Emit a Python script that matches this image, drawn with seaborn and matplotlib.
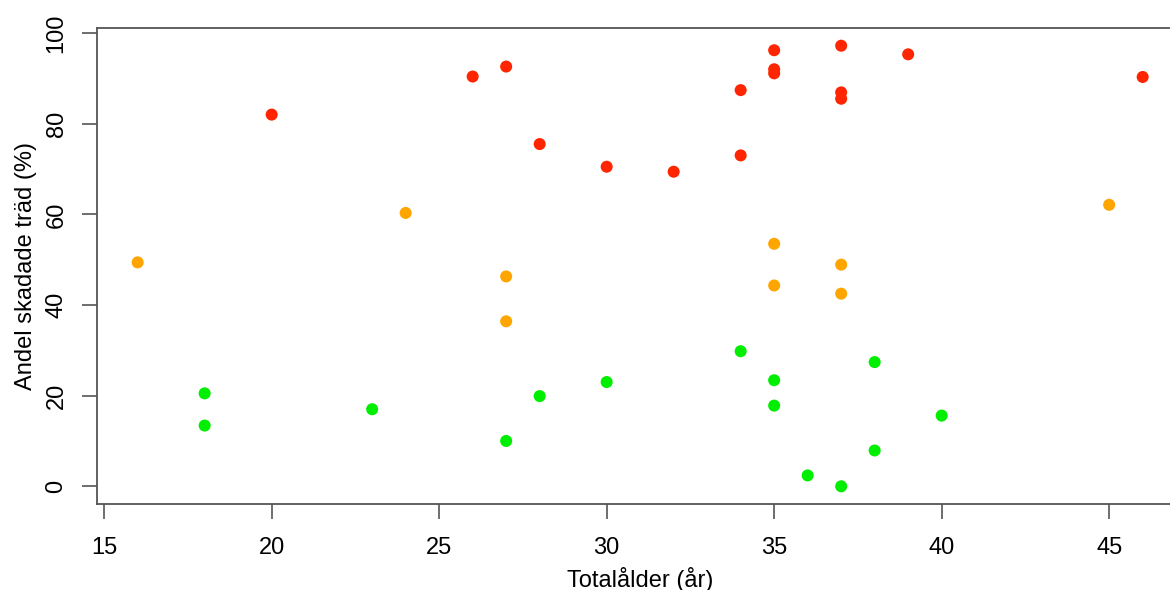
import numpy as np
import pandas as pd
import matplotlib
matplotlib.use("Agg")
import matplotlib.pyplot as plt
import seaborn as sns

# totalålder (år) och andel skadade träd (%) per klass
red_age = [20, 26, 27, 28, 30, 32, 34, 34, 35, 35, 35, 37, 37, 37, 39, 46]
red_share = [82.0, 90.4, 92.6, 75.5, 70.5, 69.4, 87.4, 73.0, 96.2, 92.0, 91.1, 97.2, 86.9, 85.5, 95.3, 90.3]

orange_age = [16, 24, 27, 27, 35, 35, 37, 37, 45]
orange_share = [49.4, 60.3, 46.3, 36.4, 53.5, 44.3, 48.9, 42.5, 62.1]

green_age = [18, 18, 23, 27, 28, 30, 34, 35, 35, 36, 37, 38, 38, 40]
green_share = [20.5, 13.4, 17.0, 10.0, 19.9, 23.0, 29.8, 23.4, 17.8, 2.4, 0.0, 27.4, 7.9, 15.6]

klass_farger = {"hög": "#ff2500", "mellan": "#ffa500", "låg": "#00ee00"}

df = pd.DataFrame({
    "alder": red_age + orange_age + green_age,
    "andel": red_share + orange_share + green_share,
    "klass": ["hög"] * len(red_age) + ["mellan"] * len(orange_age) + ["låg"] * len(green_age),
})

sns.set_style("white")
plt.rcParams["font.family"] = ["Liberation Sans", "DejaVu Sans"]
plt.rcParams["text.color"] = "black"
plt.rcParams["axes.labelcolor"] = "black"
plt.rcParams["xtick.color"] = "#555555"
plt.rcParams["ytick.color"] = "#555555"
plt.rcParams["xtick.labelcolor"] = "black"
plt.rcParams["ytick.labelcolor"] = "black"

fig = plt.figure(figsize=(11.7, 5.9), dpi=100)
ax = fig.add_axes([0.0833, 0.1458, 0.9277, 0.8067])

sns.scatterplot(data=df, x="alder", y="andel", hue="klass", palette=klass_farger,
                s=75, linewidth=0, legend=False, ax=ax)

ax.set_xlim(14.8, 47.2)
ax.set_ylim(-3.9, 101.1)
ax.set_xticks([15, 20, 25, 30, 35, 40, 45])
ax.set_yticks([0, 20, 40, 60, 80, 100])
ax.set_xlabel("Totalålder (år)", fontsize=17, labelpad=6)
ax.set_ylabel("Andel skadade träd (%)", fontsize=17, labelpad=6)

for side in ["left", "top", "bottom"]:
    ax.spines[side].set_color("#555555")
    ax.spines[side].set_linewidth(1.3)
ax.spines["right"].set_visible(False)

ax.tick_params(axis="both", direction="out", length=10.5, width=1.2,
               labelsize=17, left=True, bottom=True)
ax.tick_params(axis="x", pad=13)
ax.tick_params(axis="y", pad=11)
for lbl in ax.get_yticklabels():
    lbl.set_rotation(90)
    lbl.set_va("center")

fig.savefig("out.png", dpi=100)
